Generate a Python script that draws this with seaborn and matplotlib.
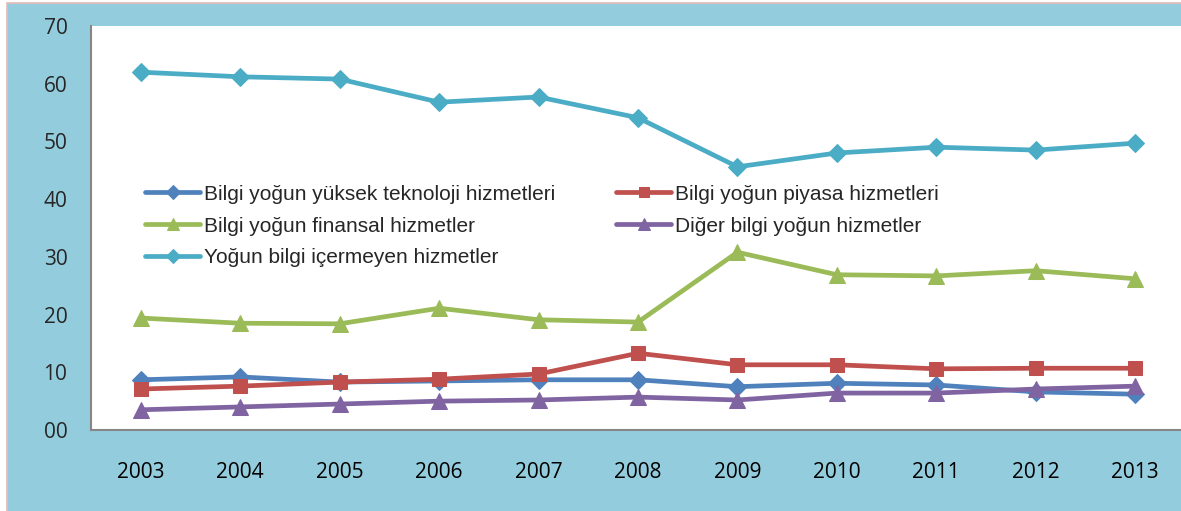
import matplotlib
matplotlib.use("Agg")
import matplotlib.pyplot as plt
from matplotlib.patches import Rectangle
from matplotlib.ticker import FixedLocator
import seaborn as sns
import pandas as pd

# data
years = [2003, 2004, 2005, 2006, 2007, 2008, 2009, 2010, 2011, 2012, 2013]
yuksek_teknoloji = [8.7, 9.2, 8.3, 8.5, 8.7, 8.7, 7.5, 8.1, 7.8, 6.6, 6.2]
piyasa = [7.1, 7.6, 8.3, 8.8, 9.7, 13.3, 11.3, 11.3, 10.6, 10.7, 10.7]
finansal = [19.4, 18.5, 18.4, 21.1, 19.1, 18.7, 30.8, 26.9, 26.7, 27.6, 26.2]
diger = [3.5, 4.0, 4.5, 5.0, 5.2, 5.7, 5.2, 6.4, 6.4, 7.1, 7.6]
icermeyen = [62.0, 61.2, 60.8, 56.8, 57.7, 54.1, 45.6, 48.0, 49.0, 48.5, 49.7]

series_names = [
    "Bilgi yoğun yüksek teknoloji hizmetleri",
    "Bilgi yoğun piyasa hizmetleri",
    "Bilgi yoğun finansal hizmetler",
    "Diğer bilgi yoğun hizmetler",
    "Yoğun bilgi içermeyen hizmetler",
]
series_values = [yuksek_teknoloji, piyasa, finansal, diger, icermeyen]
y_ticks = [0, 10, 20, 30, 40, 50, 60, 70]
y_ticklabels = ["00", "10", "20", "30", "40", "50", "60", "70"]

colors = ["#4F81BD", "#C0504D", "#9BBB59", "#8064A2", "#4BACC6"]
markers = ["D", "s", "^", "^", "D"]
msizes = [9, 10, 11, 11, 9]

df = pd.concat(
    [pd.DataFrame({"Year": years, "Value": v, "Series": n}) for n, v in zip(series_names, series_values)],
    ignore_index=True,
)

sns.set_style("white")
plt.rcParams["font.family"] = ["Liberation Sans", "DejaVu Sans"]

W, H = 1181, 511
fig = plt.figure(figsize=(W / 100, H / 100), dpi=100)
fig.patch.set_facecolor("white")
bg = "#93CCDD"
frame = Rectangle((6.5 / W, -0.05), 1.1, (H - 3.5) / H + 0.05, transform=fig.transFigure,
                  facecolor=bg, edgecolor="#E6B9B8", linewidth=1.2, zorder=-10)
fig.patches.append(frame)

x0, x1, ytop, ybot = 91, 1185, 26, 430
ax = fig.add_axes([x0 / W, (H - ybot) / H, (x1 - x0) / W, (ybot - ytop) / H])
ax.set_facecolor("white")

for name, c, m, ms in zip(series_names, colors, markers, msizes):
    sub = df[df.Series == name]
    sns.lineplot(data=sub, x="Year", y="Value", color=c, marker=m, markersize=ms,
                 markeredgecolor=c, linewidth=3.4, ax=ax, label=name, zorder=3)

ax.set_xlim(2002.5, 2013.5)
ax.set_ylim(0, 70)
ax.set_xlabel("")
ax.set_ylabel("")

ax.set_xticks(years)
ax.set_xticklabels([str(y) for y in years])
ax.xaxis.set_minor_locator(FixedLocator([y - 0.5 for y in years] + [2013.5]))
ax.set_yticks(y_ticks)
ax.set_yticklabels(y_ticklabels)

gray = "#868686"
ax.tick_params(axis="x", which="major", length=0, pad=23, labelsize=15, colors="black")
ax.tick_params(axis="x", which="minor", length=6, width=1.5, color=gray, direction="out")
ax.tick_params(axis="y", length=6, width=1.5, color=gray, direction="out", pad=11, labelsize=15)
for lab in ax.get_xticklabels() + ax.get_yticklabels():
    lab.set_fontfamily(["Open Sans", "DejaVu Sans"])

for s in ["top", "right"]:
    ax.spines[s].set_visible(False)
for s in ["left", "bottom"]:
    ax.spines[s].set_color(gray)
    ax.spines[s].set_linewidth(1.5)

# legend: two columns filled column-wise -> reorder entries
h, l = ax.get_legend_handles_labels()
order = [0, 2, 4, 1, 3]
leg = ax.legend([h[i] for i in order], [l[i] for i in order], ncol=2, frameon=False,
                loc="center left", bbox_to_anchor=((145 - x0) / (x1 - x0), (ybot - 226) / (ybot - ytop)),
                borderaxespad=0, borderpad=0, fontsize=15, handlelength=2.65, handletextpad=0.2,
                labelspacing=0.62, columnspacing=2.9, markerscale=0.75)

fig.savefig("out.png", dpi=100, facecolor=fig.get_facecolor())
